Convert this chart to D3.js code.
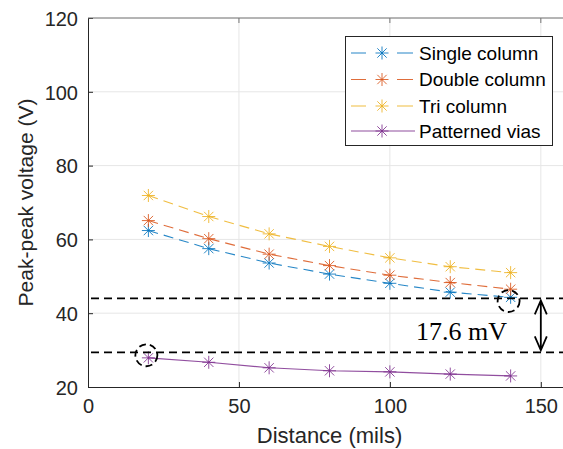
<!DOCTYPE html>
<html>
<head>
<meta charset="utf-8">
<script src="https://cdn.jsdelivr.net/npm/d3@7"></script>
<style>
  body { margin: 0; background: #fff; }
  svg { display: block; }
  text { font-family: "Liberation Sans", Arial, sans-serif; }
</style>
</head>
<body>
<div id="chart"></div>
<script>
// data
const distance = [20, 40, 60, 80, 100, 120, 140];
const singleColumn = [62.4, 57.5, 53.6, 50.6, 48.1, 45.7, 44.3];
const doubleColumn = [65.1, 60.2, 56.0, 52.9, 50.3, 48.3, 46.5];
const triColumn = [71.9, 66.2, 61.5, 58.1, 55.0, 52.6, 51.0];
const patternedVias = [27.9, 26.7, 25.2, 24.4, 24.1, 23.5, 23.0];

const seriesNames = ['Single column', 'Double column', 'Tri column', 'Patterned vias'];
const seriesColors = ['#0072BD', '#D95319', '#EDB120', '#7E2F8E'];
const seriesDashed = [true, true, true, false];

const xTicks = [0, 50, 100, 150];
const yTicks = [20, 40, 60, 80, 100, 120];

// annotation values
const upperRef = 44.0;
const lowerRef = 29.4;
const gapLabel = '17.6 mV';

const width = 563;
const height = 449;
const margin = { left: 88, top: 18, bottom: 62 };

const x = d3.scaleLinear().domain([0, 160]).range([margin.left, 571]);
const y = d3.scaleLinear().domain([20, 120]).range([height - margin.bottom, margin.top]);

const svg = d3.select('#chart')
  .append('svg')
  .attr('width', width)
  .attr('height', height);

// grid
svg.append('g')
  .selectAll('line')
  .data(yTicks.slice(1))
  .join('line')
  .attr('x1', x(0)).attr('x2', x(160))
  .attr('y1', d => y(d)).attr('y2', d => y(d))
  .attr('stroke', '#e6e6e6').attr('stroke-width', 1);
svg.append('g')
  .selectAll('line')
  .data(xTicks.slice(1))
  .join('line')
  .attr('x1', d => x(d)).attr('x2', d => x(d))
  .attr('y1', y(20)).attr('y2', y(120))
  .attr('stroke', '#e6e6e6').attr('stroke-width', 1);

// axes
const xAxis = svg.append('g')
  .attr('transform', `translate(0,${y(20)})`)
  .call(d3.axisBottom(x).tickValues(xTicks).tickSizeInner(-5).tickSizeOuter(0).tickPadding(12));
const yAxis = svg.append('g')
  .attr('transform', `translate(${x(0)},0)`)
  .call(d3.axisLeft(y).tickValues(yTicks).tickSizeInner(-5).tickSizeOuter(0).tickPadding(10));
[xAxis, yAxis].forEach(a => {
  a.select('.domain').attr('stroke', '#262626');
  a.selectAll('.tick line').attr('stroke', '#262626');
  a.selectAll('.tick text')
    .attr('fill', '#262626')
    .style('font-size', '20px')
    .style('font-family', '"Liberation Sans", Arial, sans-serif');
});
yAxis.selectAll('.tick text').attr('dy', '0.36em');

// top box line with ticks
svg.append('line')
  .attr('x1', x(0)).attr('x2', x(160))
  .attr('y1', y(120)).attr('y2', y(120))
  .attr('stroke', '#777').attr('stroke-width', 1);
svg.append('g')
  .selectAll('line')
  .data(xTicks.slice(1))
  .join('line')
  .attr('x1', d => x(d)).attr('x2', d => x(d))
  .attr('y1', y(120)).attr('y2', y(120) + 5)
  .attr('stroke', '#777');

// axis labels
svg.append('text')
  .attr('x', (x(0) + x(160)) / 2)
  .attr('y', 443)
  .attr('text-anchor', 'middle')
  .attr('fill', '#262626')
  .style('font-size', '22px')
  .text('Distance (mils)');
svg.append('text')
  .attr('transform', `translate(33,${(y(20) + y(120)) / 2}) rotate(-90)`)
  .attr('text-anchor', 'middle')
  .attr('fill', '#262626')
  .style('font-size', '21px')
  .text('Peak-peak voltage (V)');

// star marker (matlab '*')
function starPath(cx, cy, r) {
  const d = r * 0.72;
  return `M${cx - r},${cy}L${cx + r},${cy}M${cx},${cy - r}L${cx},${cy + r}` +
    `M${cx - d},${cy - d}L${cx + d},${cy + d}M${cx - d},${cy + d}L${cx + d},${cy - d}`;
}

const allSeries = [singleColumn, doubleColumn, triColumn, patternedVias];
const line = d3.line().x((d, i) => x(distance[i])).y(d => y(d));

allSeries.forEach((vals, s) => {
  svg.append('path')
    .datum(vals)
    .attr('d', line)
    .attr('fill', 'none')
    .attr('stroke', seriesColors[s])
    .attr('stroke-width', 1.1)
    .attr('stroke-opacity', 0.85)
    .attr('stroke-dasharray', seriesDashed[s] ? '10,6' : null);
  svg.append('g')
    .selectAll('path')
    .data(vals)
    .join('path')
    .attr('d', (d, i) => starPath(x(distance[i]), y(d), 6.5))
    .attr('stroke', seriesColors[s])
    .attr('stroke-width', 1)
    .attr('stroke-opacity', 0.85)
    .attr('fill', 'none');
});

// reference dashed lines
svg.append('g')
  .selectAll('line')
  .data([upperRef, lowerRef])
  .join('line')
  .attr('x1', x(0) + 3).attr('x2', width)
  .attr('y1', d => y(d)).attr('y2', d => y(d))
  .attr('stroke', '#000')
  .attr('stroke-width', 1.8)
  .attr('stroke-dasharray', '8,5');

// dashed circles around the compared points
svg.append('g')
  .selectAll('circle')
  .data([[140, 43.3], [20, 28.6]])
  .join('circle')
  .attr('cx', d => x(d[0]) - 2)
  .attr('cy', d => y(d[1]))
  .attr('r', 11)
  .attr('fill', 'none')
  .attr('stroke', '#000')
  .attr('stroke-width', 1.8)
  .attr('stroke-dasharray', '7,4');

// double-headed arrow
const ax = x(150);
const ay1 = y(upperRef) + 2;
const ay2 = y(lowerRef) - 2;
svg.append('path')
  .attr('d', `M${ax},${ay1}L${ax},${ay2}M${ax - 6},${ay1 + 14}L${ax},${ay1}L${ax + 6},${ay1 + 14}` +
    `M${ax - 6},${ay2 - 14}L${ax},${ay2}L${ax + 6},${ay2 - 14}`)
  .attr('fill', 'none')
  .attr('stroke', '#000')
  .attr('stroke-width', 1.8);

svg.append('text')
  .attr('x', 507)
  .attr('y', 340)
  .attr('text-anchor', 'end')
  .style('font-family', '"Liberation Serif", "Times New Roman", serif')
  .style('font-size', '26px')
  .attr('fill', '#000')
  .text(gapLabel);

// legend
const legend = svg.append('g');
legend.append('rect')
  .attr('x', 345.5).attr('y', 36.5)
  .attr('width', 207).attr('height', 109)
  .attr('fill', '#fff')
  .attr('stroke', '#262626')
  .attr('stroke-width', 1);
const rowY = [53, 79.5, 106, 131];
seriesNames.forEach((name, s) => {
  const ly = rowY[s];
  if (seriesDashed[s]) {
    legend.append('path')
      .attr('d', `M351,${ly}L366,${ly}M397,${ly}L413,${ly}`)
      .attr('stroke', seriesColors[s]).attr('stroke-width', 1.1)
      .attr('stroke-opacity', 0.85).attr('fill', 'none');
  } else {
    legend.append('line')
      .attr('x1', 351).attr('x2', 415).attr('y1', ly).attr('y2', ly)
      .attr('stroke', seriesColors[s]).attr('stroke-width', 1.1)
      .attr('stroke-opacity', 0.85);
  }
  legend.append('path')
    .attr('d', starPath(382, ly, 6.5))
    .attr('stroke', seriesColors[s]).attr('stroke-width', 1)
    .attr('stroke-opacity', 0.85).attr('fill', 'none');
  legend.append('text')
    .attr('x', 419)
    .attr('y', ly)
    .attr('dy', '0.36em')
    .attr('fill', '#000')
    .style('font-size', '19px')
    .text(name);
});
</script>
</body>
</html>
